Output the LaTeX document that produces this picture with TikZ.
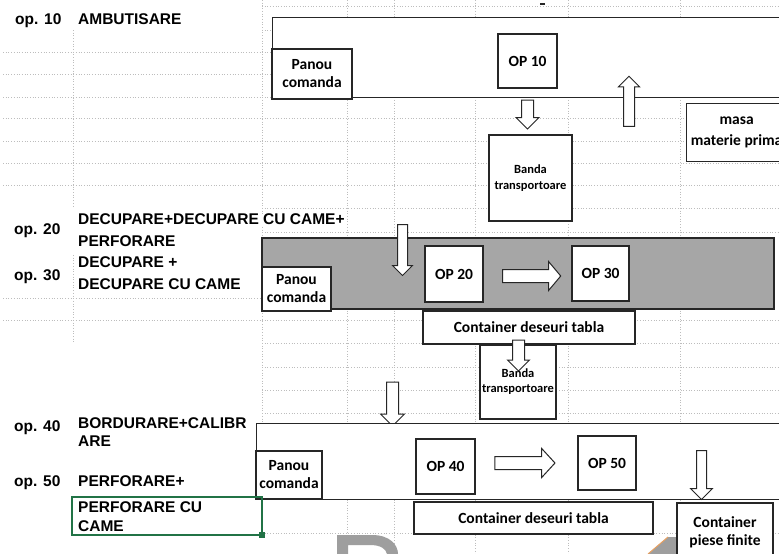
\documentclass[tikz,border=0pt]{standalone}
\usepackage{fontspec}
\setmainfont{Liberation Sans}
\newfontfamily\calfont{Carlito}
\usetikzlibrary{shapes.arrows}
\definecolor{xlgreen}{HTML}{217346}
\definecolor{bandgrey}{HTML}{A6A6A6}
\definecolor{gridc}{HTML}{BDBDBD}
\definecolor{edge}{HTML}{262626}
\definecolor{wmgrey}{HTML}{9E9E9E}
\definecolor{wmorange}{HTML}{E8A060}
\tikzset{
  gridln/.style={draw=gridc, dotted, line width=0.7pt},
  box/.style={draw=edge, line width=1.2pt, fill=white, inner sep=0pt},
  bt/.style={font=\calfont\fontsize{15.5}{18}\selectfont\bfseries, align=center},
  bts/.style={font=\calfont\fontsize{12.5}{15.5}\selectfont\bfseries, align=center},
  lbl/.style={font=\fontsize{15.5}{18}\selectfont\bfseries, anchor=west, inner sep=0pt, text height=11pt, text depth=0pt},
  barrow/.style={single arrow, draw=edge, fill=white, line width=1pt, inner xsep=0pt, single arrow head indent=0pt},
}
\begin{document}
\begin{tikzpicture}[x=1pt,y=-1pt]
\useasboundingbox (0,0) rectangle (779,554);
\begin{scope}
\clip (0,0) rectangle (779,554);
\fill[white] (0,0) rectangle (779,554);
% spreadsheet grid
\foreach \y in {52,74,97,118,141,163,185,298,320}
  \draw[gridln] (3,\y) -- (262,\y);
\foreach \y in {6,30,52,74,97,118,141,163,185,208,232,320,343,367,390,413,533}
  \draw[gridln] (262,\y) -- (779,\y);
\draw[gridln] (73,30) -- (73,208);
\draw[gridln] (73,255) -- (73,342);
\draw[gridln] (262,0) -- (262,430);
\foreach \x in {347,394,475,568,680}
  \draw[gridln] (\x,0) -- (\x,554);
\draw[edge, line width=1.2pt] (540,4) -- (545,4);

% watermark fragments
\fill[wmgrey, even odd rule] (337,554) -- (337,535) -- (372,535) .. controls (390,535) and (398,545) .. (398,554) -- cycle
  (348,554) -- (348,545) -- (370,545) .. controls (381,545) and (386,549) .. (387,554) -- cycle;
\fill[wmgrey] (648,554) -- (668,537) -- (677,537) -- (677,554) -- cycle;
\draw[wmorange, line width=1pt] (648,554) -- (668,537);

% ---- station 10 ----
\node[box, anchor=north west, minimum width=520, minimum height=80] (m1) at (272,17) {};
\node[box, bt, minimum width=80, minimum height=50] (pc1) at (312,74) {Panou\\comanda};
\node[box, bt, minimum width=59, minimum height=54] (op10) at (527.5,61) {OP 10};
\node[box, bts, minimum width=83, minimum height=86] (bt1) at (530.5,178) {Banda\\transportoare};
\node[box, bt, anchor=north west, minimum width=100, minimum height=58, font=\calfont\fontsize{15.5}{21}\selectfont\bfseries] (mmp) at (686,103) {masa\\materie prima};
\node[barrow, rotate=-90, minimum height=29, minimum width=22, inner ysep=5.5pt, single arrow head extend=5.5pt] (a1) at (527.5,111.5) {};
\node[barrow, rotate=90, minimum height=50, minimum width=20, inner ysep=5pt, single arrow head extend=5pt] (a2) at (629,104) {};

% ---- station 20/30 ----
\node[box, fill=bandgrey, minimum width=512, minimum height=71] (m2) at (518,273.5) {};
\node[box, bt, minimum width=69, minimum height=44] (pc2) at (296.5,289) {Panou\\comanda};
\node[box, bt, minimum width=58, minimum height=56] (op20) at (454,274) {OP 20};
\node[box, bt, minimum width=57, minimum height=55] (op30) at (600.5,273.5) {OP 30};
\node[box, bt, minimum width=212, minimum height=33] (cd1) at (529,327.5) {Container deseuri tabla};
\node[box, bts, minimum width=76, minimum height=74, font=\calfont\fontsize{12.5}{15}\selectfont\bfseries] (bt2) at (518,382) {Banda\\transportoare};
\node[barrow, rotate=-90, minimum height=51, minimum width=19, inner ysep=4.5pt, single arrow head extend=5pt] (a3) at (402.5,247.5) {};
\node[barrow, minimum height=58, minimum width=28, inner ysep=6pt, single arrow head extend=8pt, single arrow tip angle=100] (a4) at (529,276) {};
\node[barrow, rotate=-90, minimum height=31, minimum width=21, inner ysep=5.5pt, single arrow head extend=5pt] (a5) at (518.5,352.5) {};
\node[barrow, rotate=-90, minimum height=44, minimum width=23, inner ysep=5.5pt, single arrow head extend=6pt] (a6) at (392.5,401) {};

% ---- station 40/50 ----
\node[box, anchor=north west, minimum width=534, minimum height=76] (m3) at (256,423) {};
\node[box, bt, minimum width=66, minimum height=48] (pc3) at (289,475) {Panou\\comanda};
\node[box, bt, minimum width=59, minimum height=55] (op40) at (445.5,466.5) {OP 40};
\node[box, bt, minimum width=58, minimum height=54] (op50) at (607,463) {OP 50};
\node[box, bt, minimum width=239, minimum height=32] (cd2) at (533.5,518) {Container deseuri tabla};
\node[box, minimum width=96, minimum height=67] (cpf) at (725,536.5) {};
\node[bt, inner sep=0pt] (cpft) at (725,532) {Container\\piese finite};
\node[barrow, minimum height=60, minimum width=28, inner ysep=6pt, single arrow head extend=8pt, single arrow tip angle=95] (a7) at (522,463) {};
\node[barrow, rotate=-90, minimum height=49, minimum width=21, inner ysep=4.5pt, single arrow head extend=6pt] (a8) at (701.5,472.5) {};

% ---- left labels ----
\node[lbl] (o10) at (15,19) {op. 10};
\node[lbl] (t10) at (78,19) {AMBUTISARE};
\node[lbl] (o20) at (14,229) {op. 20};
\node[lbl, fill=white] (t20a) at (78,219) {DECUPARE+DECUPARE CU CAME+};
\node[lbl] (t20b) at (78,241) {PERFORARE};
\node[lbl] (o30) at (14,275) {op. 30};
\node[lbl] (t30a) at (78,262) {DECUPARE +};
\node[lbl] (t30b) at (78,284) {DECUPARE CU CAME};
\node[lbl] (o40) at (14,426) {op. 40};
\node[lbl] (t40a) at (78,423) {BORDURARE+CALIBR};
\node[lbl] (t40b) at (78,441) {ARE};
\node[lbl] (o50) at (14,481) {op. 50};
\node[lbl] (t50a) at (78,481) {PERFORARE+};
\node[draw=xlgreen, line width=1.5pt, minimum width=190, minimum height=38, inner sep=0pt] (gsel) at (167,516) {};
\node[fill=xlgreen, minimum size=6pt, inner sep=0pt] (ghdl) at (262,535) {};
\node[lbl] (t50b) at (78,507) {PERFORARE CU};
\node[lbl] (t50c) at (78,526) {CAME};
\end{scope}
\end{tikzpicture}
\end{document}
